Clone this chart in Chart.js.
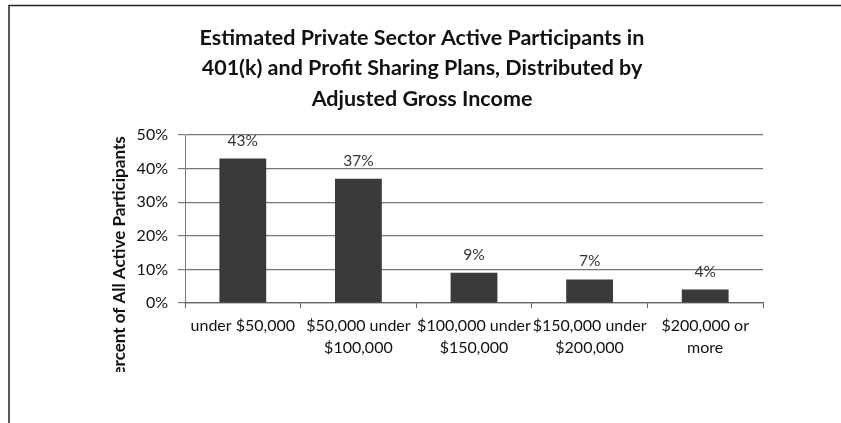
<!DOCTYPE html>
<html>
<head>
<meta charset="utf-8">
<script src="https://cdn.jsdelivr.net/npm/chart.js@4.4.1/dist/chart.umd.min.js"></script>
<style>
  html, body { margin: 0; padding: 0; background: #ffffff; }
  #wrap { width: 841px; height: 423px; }
</style>
</head>
<body>
<div id="wrap"><canvas id="c" width="841" height="423"></canvas></div>
<script>
// Income brackets and share of active participants (percent)
const categories = [
  ['under $50,000'],
  ['$50,000 under', '$100,000'],
  ['$100,000 under', '$150,000'],
  ['$150,000 under', '$200,000'],
  ['$200,000 or', 'more']
];
const shares = [43, 37, 9, 7, 4];
const yTicks = [0, 10, 20, 30, 40, 50];
const titleLines = [
  'Estimated Private Sector Active Participants in',
  '401(k) and Profit Sharing Plans, Distributed by',
  'Adjusted Gross Income'
];
const yTitle = 'Percent of All Active Participants';

const FONT = 'Lato, "Liberation Sans", sans-serif';

// Frame lines along the top and left edges of the page
const framePlugin = {
  id: 'frame',
  beforeDraw(chart) {
    const ctx = chart.ctx;
    ctx.save();
    ctx.strokeStyle = '#222';
    ctx.lineWidth = 1.5;
    ctx.beginPath();
    ctx.moveTo(9, 423);
    ctx.lineTo(9, 5.5);
    ctx.lineTo(841, 5.5);
    ctx.stroke();
    ctx.restore();
  }
};

// Three-line heading centred across the page
const headingPlugin = {
  id: 'heading',
  afterDraw(chart) {
    const ctx = chart.ctx;
    ctx.save();
    ctx.font = 'bold 21.5px ' + FONT;
    ctx.fillStyle = '#111';
    ctx.textAlign = 'center';
    ctx.textBaseline = 'middle';
    titleLines.forEach((line, i) => ctx.fillText(line, 422, 38 + i * 30.5));
    ctx.restore();
  }
};

// Rotated y-axis title, cut off at the lower edge of its box
const yTitlePlugin = {
  id: 'yTitleClipped',
  afterDraw(chart) {
    const ctx = chart.ctx;
    ctx.save();
    ctx.beginPath();
    ctx.rect(100, 110, 50, 262);
    ctx.clip();
    ctx.translate(120, 261);
    ctx.rotate(-Math.PI / 2);
    ctx.font = 'bold 17px ' + FONT;
    ctx.fillStyle = '#111';
    ctx.textAlign = 'center';
    ctx.textBaseline = 'middle';
    ctx.fillText(yTitle, 0, 0);
    ctx.restore();
  }
};

// Value labels above each bar
const valueLabelPlugin = {
  id: 'valueLabels',
  afterDatasetsDraw(chart) {
    const ctx = chart.ctx;
    const meta = chart.getDatasetMeta(0);
    ctx.save();
    ctx.font = '15.5px ' + FONT;
    ctx.fillStyle = '#333';
    ctx.textAlign = 'center';
    ctx.textBaseline = 'middle';
    meta.data.forEach((bar, i) => {
      ctx.fillText(shares[i] + '%', bar.x, bar.y - 18);
    });
    ctx.restore();
  }
};

new Chart(document.getElementById('c'), {
  type: 'bar',
  data: {
    labels: categories,
    datasets: [{
      data: shares,
      backgroundColor: '#3a3a3a',
      borderWidth: 0,
      barPercentage: 0.405,
      categoryPercentage: 1.0
    }]
  },
  options: {
    responsive: false,
    animation: false,
    devicePixelRatio: 1,
    layout: { padding: { left: 0, right: 78, top: 135, bottom: 0 } },
    plugins: {
      legend: { display: false },
      tooltip: { enabled: false },
      title: { display: false }
    },
    scales: {
      x: {
        offset: true,
        grid: {
          display: true,
          offset: true,
          drawOnChartArea: false,
          drawTicks: true,
          tickLength: 5,
          color: '#666'
        },
        border: { display: true, color: '#666', width: 1.2 },
        ticks: {
          color: '#111',
          padding: 7,
          maxRotation: 0,
          autoSkip: false,
          font: { family: FONT, size: 16, lineHeight: 1.375 }
        },
        afterFit(scale) { scale.height = 120; }
      },
      y: {
        min: 0,
        max: 50,
        afterBuildTicks(scale) { scale.ticks = yTicks.map(v => ({ value: v })); },
        grid: {
          color: '#777',
          lineWidth: 1.2,
          drawTicks: true,
          tickLength: 7
        },
        border: { display: true, color: '#777', width: 1 },
        ticks: {
          color: '#111',
          padding: 10,
          font: { family: FONT, size: 16 },
          callback: v => v + '%'
        },
        afterFit(scale) { scale.width = 185; }
      }
    }
  },
  plugins: [framePlugin, headingPlugin, yTitlePlugin, valueLabelPlugin]
});
</script>
</body>
</html>
